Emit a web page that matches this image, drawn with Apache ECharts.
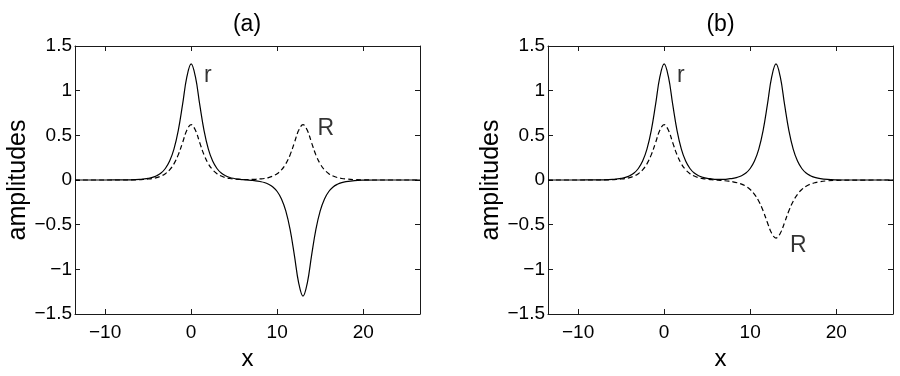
<!DOCTYPE html>
<html>
<head>
<meta charset="utf-8">
<script src="https://cdn.jsdelivr.net/npm/echarts@6/dist/echarts.min.js"></script>
<style>
  html, body { margin: 0; padding: 0; background: #fff; }
  #chart { width: 900px; height: 376px; }
</style>
</head>
<body>
<div id="chart"></div>
<script>
const xs = [-13.5, -10, -8, -7, -6, -5.5, -5, -4.5, -4, -3.5, -3, -2.5, -2, -1.5, -1, -0.5,
  0, 0.5, 1, 1.5, 2, 2.5, 3, 3.5, 4, 4.5, 5, 5.5, 6, 6.5, 7, 7.5, 8, 8.5, 9, 9.5,
  10, 10.5, 11, 11.5, 12, 12.5, 13, 13.5, 14, 14.5, 15, 15.5, 16, 16.5, 17, 17.5, 18, 19, 20, 22, 26.6];

// panel (a)
const rA = [0, 0, 0.001, 0.002, 0.006, 0.011, 0.018, 0.029, 0.048, 0.078, 0.129, 0.212, 0.346, 0.553, 0.843, 1.153,
  1.30, 1.153, 0.843, 0.553, 0.346, 0.212, 0.129, 0.078, 0.048, 0.028, 0.017, 0.009, 0.004, 0, -0.004, -0.009, -0.017, -0.028, -0.048, -0.078,
  -0.129, -0.212, -0.346, -0.553, -0.843, -1.153, -1.30, -1.153, -0.843, -0.553, -0.346, -0.212, -0.129, -0.078, -0.048, -0.029, -0.018, -0.006, -0.002, 0, 0];
const RA = [0, 0, 0, 0.001, 0.004, 0.007, 0.011, 0.017, 0.027, 0.044, 0.071, 0.114, 0.181, 0.281, 0.417, 0.556,
  0.62, 0.556, 0.417, 0.281, 0.181, 0.114, 0.071, 0.044, 0.027, 0.017, 0.012, 0.008, 0.006, 0.005, 0.006, 0.008, 0.012, 0.017, 0.027, 0.044,
  0.071, 0.114, 0.181, 0.281, 0.417, 0.556, 0.62, 0.556, 0.417, 0.281, 0.181, 0.114, 0.071, 0.044, 0.027, 0.017, 0.011, 0.004, 0.001, 0, 0];

// panel (b)
const rB = [0, 0, 0.001, 0.002, 0.006, 0.011, 0.018, 0.029, 0.048, 0.078, 0.129, 0.212, 0.346, 0.553, 0.843, 1.153,
  1.30, 1.153, 0.843, 0.553, 0.346, 0.212, 0.129, 0.078, 0.048, 0.030, 0.019, 0.013, 0.008, 0.008, 0.008, 0.013, 0.019, 0.030, 0.048, 0.078,
  0.129, 0.212, 0.346, 0.553, 0.843, 1.153, 1.30, 1.153, 0.843, 0.553, 0.346, 0.212, 0.129, 0.078, 0.048, 0.029, 0.018, 0.006, 0.002, 0, 0];
const RB = [0, 0, 0, 0.001, 0.004, 0.007, 0.011, 0.017, 0.027, 0.044, 0.071, 0.114, 0.181, 0.281, 0.417, 0.556,
  0.62, 0.556, 0.417, 0.281, 0.181, 0.114, 0.071, 0.044, 0.027, 0.016, 0.010, 0.004, 0, -0.004, -0.008, -0.013, -0.020, -0.031, -0.046, -0.070,
  -0.106, -0.160, -0.237, -0.344, -0.475, -0.597, -0.65, -0.597, -0.475, -0.344, -0.237, -0.160, -0.106, -0.070, -0.046, -0.031, -0.020, -0.009, -0.004, -0.001, 0];

const xTicks = [-10, 0, 10, 20];
const panelTitles = ['(a)', '(b)'];
// curve labels [x, y, text]
const labelsA = [[1.95, 1.17, 'r'], [15.65, 0.57, 'R']];
const labelsB = [[1.95, 1.17, 'r'], [15.6, -0.74, 'R']];

const FONT = '"Liberation Sans", Arial, Helvetica, sans-serif';
const INK = '#000';
const AX = '#1a1a1a';
const pair = ys => xs.map((x, i) => [x, ys[i]]);
const minus = v => String(v).replace('-', '\u2212');

const chart = echarts.init(document.getElementById('chart'), null, { renderer: 'canvas' });

const grids = [
  { left: 75, right: 480, top: 46, bottom: 58 },
  { left: 548, right: 7, top: 46, bottom: 58 }
];

const xAxes = [], yAxes = [];
grids.forEach((g, gi) => {
  const base = {
    gridIndex: gi, type: 'value', min: -13.5, max: 26.6,
    axisLine: { show: true, onZero: false, lineStyle: { color: AX, width: 1 } },
    splitLine: { show: false }
  };
  xAxes.push(Object.assign({}, base, {
    position: 'bottom',
    name: 'x', nameLocation: 'middle', nameGap: 33,
    nameTextStyle: { fontSize: 24, fontFamily: FONT, color: INK },
    axisTick: { inside: true, length: 5, customValues: xTicks, lineStyle: { color: AX } },
    axisLabel: { customValues: xTicks, fontSize: 19, fontFamily: FONT, color: INK, margin: 9, formatter: minus }
  }));
  xAxes.push(Object.assign({}, base, {
    position: 'top',
    axisTick: { inside: true, length: 5, customValues: xTicks, lineStyle: { color: AX } },
    axisLabel: { show: false }
  }));
  const ybase = {
    gridIndex: gi, type: 'value', min: -1.5, max: 1.5, interval: 0.5,
    axisLine: { show: true, onZero: false, lineStyle: { color: AX, width: 1 } },
    axisTick: { inside: true, length: 5, lineStyle: { color: AX } },
    splitLine: { show: false }
  };
  yAxes.push(Object.assign({}, ybase, {
    position: 'left',
    name: 'amplitudes', nameLocation: 'middle', nameGap: 38, nameRotate: 90,
    nameTextStyle: { fontSize: 25, fontFamily: FONT, color: INK },
    axisLabel: { fontSize: 19, fontFamily: FONT, color: INK, margin: 3, formatter: minus }
  }));
  yAxes.push(Object.assign({}, ybase, {
    position: 'right',
    axisLabel: { show: false }
  }));
});

const lineSeries = (data, gi, dashed) => ({
  type: 'line', xAxisIndex: gi * 2, yAxisIndex: gi * 2,
  data: pair(data), smooth: 0.4, showSymbol: false, symbol: 'none',
  lineStyle: { color: '#000', width: 1.2, type: dashed ? [5, 3] : 'solid' },
  silent: true, animation: false
});

const textSeries = (items, gi) => ({
  type: 'scatter', xAxisIndex: gi * 2, yAxisIndex: gi * 2,
  data: items, symbolSize: 0, silent: true, animation: false,
  label: {
    show: true, position: 'inside', formatter: p => p.data[2],
    fontSize: 23, fontFamily: FONT, color: INK
  }
});

chart.setOption({
  backgroundColor: '#fff',
  animation: false,
  grid: grids,
  xAxis: xAxes,
  yAxis: yAxes,
  graphic: panelTitles.map((t, i) => ({
    type: 'text', x: i === 0 ? 247 : 720.5, y: 25,
    style: { text: t, align: 'center', verticalAlign: 'middle', fontSize: 23, fontFamily: FONT, fill: INK }
  })),
  series: [
    lineSeries(rA, 0, false), lineSeries(RA, 0, true),
    lineSeries(rB, 1, false), lineSeries(RB, 1, true),
    textSeries(labelsA, 0), textSeries(labelsB, 1)
  ]
});
</script>
</body>
</html>
